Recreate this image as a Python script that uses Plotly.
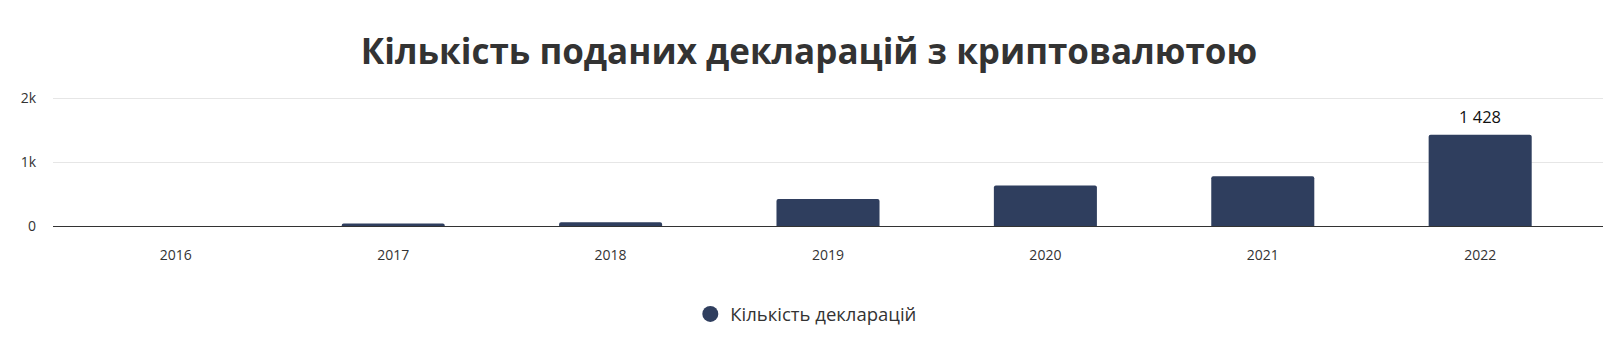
import plotly.graph_objects as go

years = ["2016", "2017", "2018", "2019", "2020", "2021", "2022"]
declarations = [0, 40, 58, 423, 635, 778, 1428]
series_name = "Кількість декларацій"
title_text = "Кількість поданих декларацій з криптовалютою"
bar_color = "#2f3e5e"

top_idx = declarations.index(max(declarations))
top_label = f"{declarations[top_idx]:,}".replace(",", " ")

fig = go.Figure()
fig.add_trace(go.Bar(
    x=years, y=declarations,
    marker=dict(color=bar_color, line=dict(width=0), cornerradius=2),
    width=0.474, showlegend=False, name=series_name,
))
fig.add_trace(go.Scatter(
    x=[None], y=[None], mode="markers", name=series_name,
    marker=dict(symbol="circle", size=18, color=bar_color),
))
fig.add_annotation(
    x=top_idx, y=declarations[top_idx], xref="x", yref="y", text=top_label,
    showarrow=False, yanchor="bottom", yshift=5,
    font=dict(family="Open Sans", size=16.5, color="#111111"),
)

fig.update_layout(
    width=1618, height=356,
    margin=dict(l=53, r=15, t=96, b=130),
    paper_bgcolor="white", plot_bgcolor="white",
    title=dict(text="<b>" + title_text + "</b>", x=0.5, xanchor="center",
               y=0.855, yanchor="middle",
               font=dict(family="Open Sans", size=35, color="#333333")),
    showlegend=True,
    legend=dict(orientation="h", x=0.486, xanchor="center", y=-0.68, yanchor="middle",
                font=dict(family="Open Sans", size=18.5, color="#333333"),
                itemsizing="trace"),
    font=dict(family="Open Sans"),
)
fig.update_xaxes(
    type="category", range=[-0.565, 6.565],
    showgrid=False, showline=True, linecolor="#333333", linewidth=1,
    tickfont=dict(size=14, color="#333333"), ticklabelstandoff=16, ticks="",
)
fig.update_yaxes(
    range=[0, 2032], tickvals=[0, 1000, 2000], ticktext=["0", "1k", "2k"],
    showgrid=True, gridcolor="#e6e6e6", gridwidth=1, zeroline=False,
    tickfont=dict(size=14, color="#333333"), ticklabelstandoff=16,
)

fig.write_html("out.html")
